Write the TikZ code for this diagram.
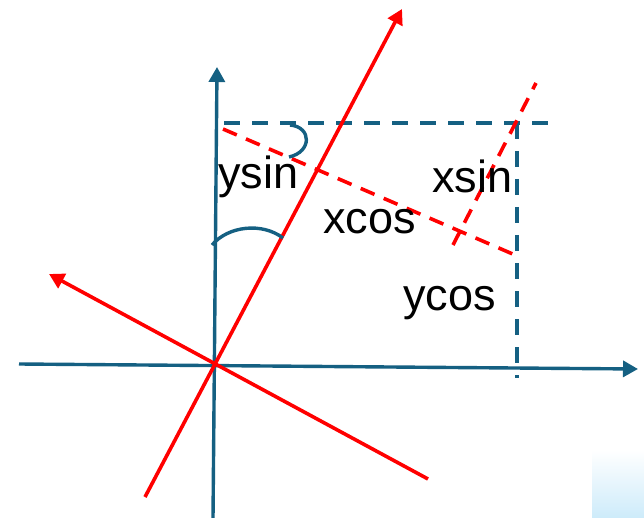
\documentclass[tikz,border=0pt]{standalone}
\usepackage{fontspec}
\setmainfont{Liberation Sans}
\usetikzlibrary{arrows.meta}
\definecolor{axisblue}{HTML}{156082}
\definecolor{paleblue}{RGB}{205,235,250}
\begin{document}
\begin{tikzpicture}[x=1pt,y=-1pt,
 axisline/.style={draw=axisblue,line width=3.4pt,-{Triangle[length=15pt,width=16pt]}},
 redarrow/.style={draw=red,line width=3.6pt,-{Triangle[length=15pt,width=16pt]}},
 bluedash/.style={draw=axisblue,line width=3.4pt,dash pattern=on 16pt off 12pt},
 reddash/.style={draw=red,line width=3.6pt,dash pattern=on 15pt off 10pt},
 anglearc/.style={draw=axisblue,line width=3.4pt},
 lbl/.style={font=\fontsize{45}{50}\selectfont,inner sep=0pt,anchor=base west}]
\useasboundingbox (0,0) rectangle (644,518);
\shade[top color=white,bottom color=paleblue] (592,450) rectangle (644,518);
% coordinates
\coordinate (xL) at (19,364);
\coordinate (xR) at (638,369);
\coordinate (yB) at (213,518);
\coordinate (yT) at (217,67);
\coordinate (r1B) at (145,497);
\coordinate (r1T) at (402,9);
\coordinate (r2B) at (428,479);
\coordinate (r2T) at (49,274);
\coordinate (hdS) at (224,123);
\coordinate (hdE) at (552,123);
\coordinate (vdS) at (517,123);
\coordinate (vdE) at (517,378);
\coordinate (d1S) at (223,129);
\coordinate (d1E) at (515,255);
\coordinate (d2S) at (453,245);
\coordinate (d2E) at (536,83);
\coordinate (a1S) at (290,125);
\coordinate (a1E) at (289,157);
\coordinate (a2S) at (212,245);
\coordinate (a2E) at (283,238);
% axes
\draw[axisline] (xL) -- (xR);
\draw[axisline] (yB) -- (yT);
% dashed blue
\draw[bluedash] (hdS) -- (hdE);
\draw[bluedash] (vdS) -- (vdE);
% red lines
\draw[redarrow] (r1B) -- (r1T);
\draw[redarrow] (r2B) -- (r2T);
% dashed red
\draw[reddash] (d1S) -- (d1E);
\draw[reddash] (d2S) -- (d2E);
% angle arcs
\draw[anglearc] (a1S) .. controls (312,127) and (312,152) .. (a1E);
\draw[anglearc] (a2S) .. controls (228,226) and (262,222) .. (a2E);
% labels
\node[lbl] (ysin) at (218,189) {ysin};
\node[lbl] (xsin) at (432,193) {xsin};
\node[lbl] (xcos) at (323,234) {xcos};
\node[lbl] (ycos) at (403,310) {ycos};
\end{tikzpicture}
\end{document}
